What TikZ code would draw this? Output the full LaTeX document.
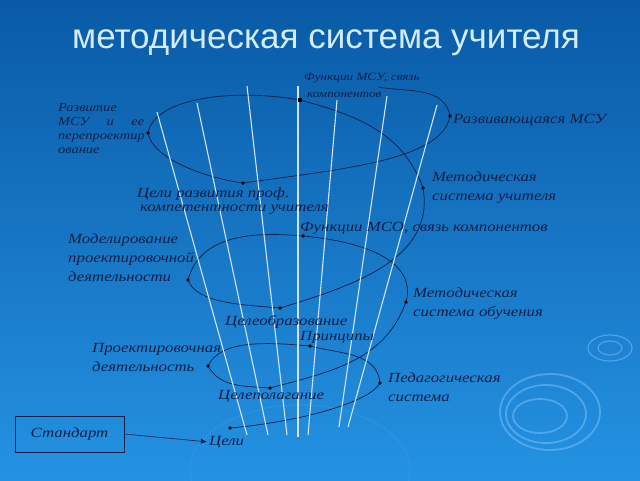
\documentclass[tikz,border=0pt]{standalone}
\usepackage{fontspec}
\setmainfont{Liberation Serif}
\newfontfamily\titlefont{Liberation Sans}
\newfontfamily\lblfont{Liberation Serif}[FakeStretch=1.2]
\usetikzlibrary{arrows.meta}
\definecolor{bgtop}{RGB}{9,90,166}
\definecolor{bgmid}{RGB}{14,106,186}
\definecolor{bgbot}{RGB}{36,146,226}
\definecolor{ink}{RGB}{16,30,72}
\definecolor{raycol}{RGB}{212,226,242}
\definecolor{ripcol}{RGB}{120,190,248}
\definecolor{titlecol}{RGB}{212,236,255}
\begin{document}
\begin{tikzpicture}[x=1pt,y=1pt,
  lbl/.style={font=\lblfont\itshape\fontsize{14}{19}\selectfont, text=ink, inner sep=0pt, anchor=west, align=left},
  lblsmall/.style={lbl, font=\lblfont\itshape\fontsize{12}{14}\selectfont},
  spiral/.style={draw=ink, line width=0.7pt},
  rayline/.style={draw=raycol, line width=1.1pt},
  dotn/.style={circle, fill=black, inner sep=0pt, minimum size=3.8pt},
  sqn/.style={rectangle, fill=black, inner sep=0pt, minimum size=4.8pt},
  ripple/.style={draw=ripcol, line width=1.8pt, opacity=0.55},
  titlestyle/.style={font=\titlefont\fontsize{35}{40}\selectfont, text=titlecol, inner sep=0pt}
]
\shade[top color=bgtop, middle color=bgmid, bottom color=bgbot] (0,0) rectangle (640,-480);
\useasboundingbox (0,0) rectangle (640,-480);

% ripples
\draw[ripple] (550,-412) ellipse [x radius=50, y radius=38];
\draw[ripple] (546,-414) ellipse [x radius=40, y radius=29];
\draw[ripple] (540,-416) ellipse [x radius=27, y radius=17];
\draw[ripple, line width=1.2pt] (610,-348) ellipse [x radius=22, y radius=13];
\draw[ripple, line width=1.2pt] (610,-348) ellipse [x radius=12, y radius=7];
\draw[ripple, line width=1pt, opacity=0.15] (300,-470) ellipse [x radius=110, y radius=65];

% title
\node[titlestyle, anchor=base] (title) at (326,-48) {методическая система учителя};

% spiral points
\coordinate (S0) at (378,-87);
\coordinate (R1) at (450,-116);
\coordinate (B1) at (243,-183);
\coordinate (L1) at (148,-133);
\coordinate (T1) at (300,-100);
\coordinate (R2) at (423,-188);
\coordinate (B2) at (280,-308);
\coordinate (L2) at (188,-280);
\coordinate (T2) at (303,-236);
\coordinate (R3) at (406,-302);
\coordinate (B3) at (270,-388);
\coordinate (L3) at (208,-366);
\coordinate (T3) at (310,-346);
\coordinate (R4) at (380,-383);
\coordinate (E)  at (230,-428);

\draw[spiral] (S0)
  to[out=-10,in=100] (R1)
  to[out=-100,in=8,out distance=45,in distance=100] (B1)
  to[out=172,in=-80,in distance=25] (L1)
  to[out=80,in=170,out distance=35,in distance=70] (T1)
  to[out=-15,in=110] (R2)
  to[out=-80,in=17] (B2)
  to[out=175,in=-70,in distance=25] (L2)
  to[out=75,in=175] (T2)
  to[out=-5,in=75] (R3)
  to[out=-110,in=15] (B3)
  to[out=175,in=-60] (L3)
  to[out=65,in=175,out distance=30] (T3)
  to[out=-15,in=95] (R4)
  to[out=-120,in=5,out distance=25] (E);

% rays
\foreach \n/\xa/\ya/\xb/\yb in {a/157/112/247/435, b/197/103/268/435, c/247/86/287/435,
  d/298/86/298/437, e/337/100/308/435, f/387/96/339/427, g/437/105/348/427}{
  \coordinate (ray\n t) at (\xa,-\ya);
  \coordinate (ray\n b) at (\xb,-\yb);
  \draw[rayline] (ray\n t) -- (ray\n b);
}

% dots
\foreach \p in {R1,B1,L1,R2,B2,L2,T2,R3,B3,L3,T3,R4,E}{
  \node[dotn] (d\p) at (\p) {};
}
\node[sqn] (dT1) at (T1) {};

% labels
\node[lblsmall] (razv) at (58,-129) {Развитие\\\makebox[86pt][s]{МСУ и ее}\\перепроектир\\ование};
\node[lbl, font=\lblfont\itshape\fontsize{11}{17}\selectfont] (fmsu) at (304,-85) {Функции МСУ, связь\\\hspace*{3pt}компонентов};
\node[lbl] (rmsu) at (453,-120) {Развивающаяся МСУ};
\node[lbl] (msu) at (432,-188) {Методическая\\система учителя};
\node[lbl, font=\lblfont\itshape\fontsize{14}{14}\selectfont] (celi1) at (137,-201) {Цели развития проф.\\\hspace*{3pt}компетентности учителя};
\node[lbl] (fmso) at (300,-228) {Функции МСО, связь компонентов};
\node[lbl] (model) at (68,-258) {Моделирование\\проектировочной\\деятельности};
\node[lbl] (mso) at (413,-304) {Методическая\\система обучения};
\node[lbl] (celeobr) at (225,-322) {Целеобразование};
\node[lbl] (princ) at (300,-337) {Принципы};
\node[lbl] (proekt) at (92,-357) {Проектировочная\\деятельность};
\node[lbl] (ped) at (388,-387) {Педагогическая\\система};
\node[lbl] (celepol) at (218,-396) {Целеполагание};
\node[lbl] (celi) at (209,-442) {Цели};

\node[draw=ink, line width=0.6pt, minimum width=109pt, minimum height=36pt, inner sep=0pt,
  font=\lblfont\itshape\fontsize{14}{19}\selectfont, text=ink] (std) at (69.5,-434) {Стандарт};
\draw[ink, line width=0.6pt, -{Latex[length=6pt,width=5pt]}, shorten >=2pt] (std.east) -- (celi.west);
\end{tikzpicture}
\end{document}
